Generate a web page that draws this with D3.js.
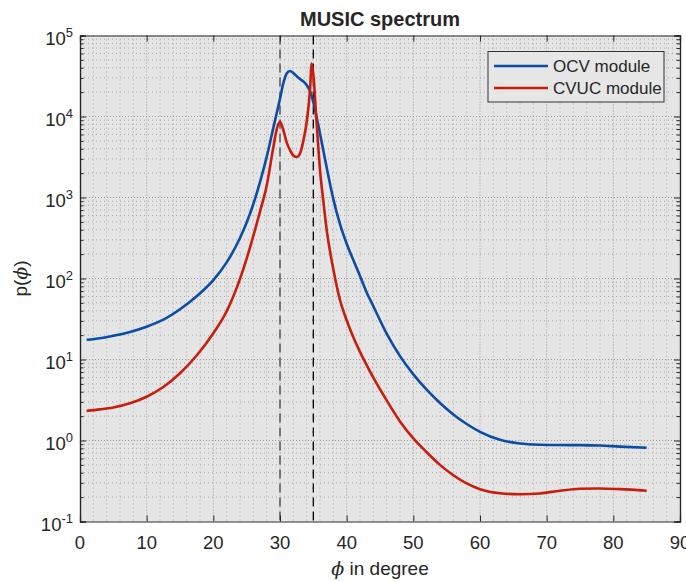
<!DOCTYPE html>
<html>
<head>
    <meta charset="utf-8">
    <title>MUSIC spectrum</title>
    <script src="https://d3js.org/d3.v7.min.js"></script>
    <style>
        body {
            margin: 0;
            background: #ffffff;
        }

        #chart text {
            font-family: "Liberation Sans", Arial, sans-serif;
            fill: #262626;
        }
    </style>
</head>
<body>
    <div id="chart"></div>

    <script>
        // angles (degree) shared by both curves
        var angles = [1, 3, 5, 7.5, 10, 12.5, 15, 17.5, 20, 22, 24, 25, 26, 27, 28, 29, 29.5, 30, 30.5, 31, 31.5,
            32, 32.5, 33, 33.5, 34, 34.5, 34.75, 35, 35.5, 36, 36.5, 37, 38, 39, 40, 41, 42, 43, 44, 46, 48,
            50, 52, 54, 56, 58, 60, 63, 66, 69, 72, 75, 78, 81, 85];

        var ocvValues = [17.5, 18.3, 19.6, 21.9, 25.4, 31.0, 41.7, 60.3, 95.5, 158, 316, 490, 832, 1549, 3162, 7244, 10965, 16596, 25704, 33884, 36500,
            34500, 31500, 29000, 27000, 24500, 20500, 18000, 15000, 9772, 6166, 3802, 2344, 955, 468, 269, 169, 107, 67.3, 45.5, 20.8, 11.0,
            6.56, 4.24, 2.90, 2.10, 1.60, 1.28, 1.02, 0.918, 0.887, 0.879, 0.877, 0.867, 0.84, 0.815];

        var cvucValues = [2.32, 2.42, 2.56, 2.88, 3.47, 4.57, 6.76, 11.2, 21.1, 39.4, 98.9, 176, 335, 668, 1396, 4170, 6900, 8600, 6800, 4800, 3850,
            3300, 3160, 3500, 5000, 8500, 21000, 45000, 33000, 8200, 2200, 900, 400, 130, 54.3, 30.5, 18.8, 12.4, 8.5, 5.96, 3.13, 1.72,
            1.06, 0.716, 0.50, 0.372, 0.295, 0.25, 0.223, 0.217, 0.222, 0.24, 0.254, 0.256, 0.251, 0.24];

        var seriesNames = ["OCV module", "CVUC module"];
        var seriesColors = ["#0a4ca6", "#c81d0d"];

        var xTicks = [0, 10, 20, 30, 40, 50, 60, 70, 80, 90];
        var yExponents = [-1, 0, 1, 2, 3, 4, 5];
        var markerAngles = [30, 35];   // dashed lines at the true directions

        var width = 686, height = 582;
        var margin = { top: 35.5, right: 6, bottom: 60.5, left: 80 };

        var svg = d3.select("#chart").append("svg")
            .attr("width", width)
            .attr("height", height);

        var x = d3.scaleLinear()
            .domain([0, 90])
            .range([margin.left, width - margin.right]);

        var y = d3.scaleLog()
            .domain([0.1, 1e5])
            .range([height - margin.bottom, margin.top]);

        var x0 = x.range()[0], x1 = x.range()[1];
        var y0 = y.range()[0], y1 = y.range()[1];

        // plot background
        svg.append("rect")
            .attr("x", x0).attr("y", y1)
            .attr("width", x1 - x0).attr("height", y0 - y1)
            .attr("fill", "#e5e5e5");

        // minor values on the log axis
        var minorY = [];
        yExponents.slice(0, -1).forEach(function (e) {
            for (var m = 2; m <= 9; m++) minorY.push(m * Math.pow(10, e));
        });
        var minorX = d3.range(2, 90, 2).filter(function (v) { return v % 10 != 0; });

        var grid = svg.append("g");
        // minor grid
        grid.selectAll(".gyminor").data(minorY).enter().append("line")
            .attr("x1", x0).attr("x2", x1)
            .attr("y1", function (d) { return y(d); }).attr("y2", function (d) { return y(d); })
            .attr("stroke", "#a6a6a6").attr("stroke-width", 1).attr("stroke-dasharray", "1,3");
        grid.selectAll(".gxminor").data(minorX).enter().append("line")
            .attr("y1", y1).attr("y2", y0)
            .attr("x1", function (d) { return x(d); }).attr("x2", function (d) { return x(d); })
            .attr("stroke", "#a6a6a6").attr("stroke-width", 1).attr("stroke-dasharray", "1,3");
        // major grid
        grid.selectAll(".gymajor").data(yExponents.slice(1, -1)).enter().append("line")
            .attr("x1", x0).attr("x2", x1)
            .attr("y1", function (d) { return y(Math.pow(10, d)); }).attr("y2", function (d) { return y(Math.pow(10, d)); })
            .attr("stroke", "#999").attr("stroke-width", 1).attr("stroke-dasharray", "1,2");
        grid.selectAll(".gxmajor").data(xTicks.slice(1, -1)).enter().append("line")
            .attr("y1", y1).attr("y2", y0)
            .attr("x1", function (d) { return x(d); }).attr("x2", function (d) { return x(d); })
            .attr("stroke", "#999").attr("stroke-width", 1).attr("stroke-dasharray", "1,2");

        // dashed markers
        svg.selectAll(".marker").data(markerAngles).enter().append("line")
            .attr("x1", function (d) { return x(d); }).attr("x2", function (d) { return x(d); })
            .attr("y1", y1).attr("y2", y0)
            .attr("stroke", function (d, i) { return i == 0 ? "#444" : "#000"; })
            .attr("stroke-width", 1.3)
            .attr("stroke-dasharray", "9,5");

        // curves
        var line = d3.line()
            .x(function (d) { return x(d[0]); })
            .y(function (d) { return y(d[1]); })
            .curve(d3.curveMonotoneX);

        [ocvValues, cvucValues].forEach(function (vals, i) {
            svg.append("path")
                .datum(angles.map(function (a, k) { return [a, vals[k]]; }))
                .attr("fill", "none")
                .attr("stroke", seriesColors[i])
                .attr("stroke-width", 2.6)
                .attr("d", line);
        });

        // axes: box with inside ticks on all four sides
        var axisColor = "#262626";
        svg.append("g").attr("transform", "translate(0," + y0 + ")")
            .call(d3.axisBottom(x).tickValues(xTicks).tickSize(-6).tickFormat(""));
        svg.append("g").attr("transform", "translate(0," + y1 + ")")
            .call(d3.axisTop(x).tickValues(xTicks).tickSize(-6).tickFormat(""));
        svg.append("g").attr("transform", "translate(" + x0 + ",0)")
            .call(d3.axisLeft(y).tickValues(yExponents.map(function (e) { return Math.pow(10, e); })).tickSize(-6).tickFormat(""));
        svg.append("g").attr("transform", "translate(" + x1 + ",0)")
            .call(d3.axisRight(y).tickValues(yExponents.map(function (e) { return Math.pow(10, e); })).tickSize(-6).tickFormat(""));
        svg.append("g").attr("transform", "translate(" + x0 + ",0)")
            .call(d3.axisLeft(y).tickValues(minorY).tickSize(-3.5).tickFormat(""));
        svg.append("g").attr("transform", "translate(" + x1 + ",0)")
            .call(d3.axisRight(y).tickValues(minorY).tickSize(-3.5).tickFormat(""));
        svg.selectAll(".domain").attr("stroke", axisColor).attr("stroke-width", 1.2);
        svg.selectAll(".tick line").attr("stroke", axisColor);

        // x tick labels
        svg.selectAll(".xlab").data(xTicks).enter().append("text")
            .attr("x", function (d) { return x(d); })
            .attr("y", y0 + 27.5)
            .attr("text-anchor", "middle")
            .style("font-size", "18.5px")
            .text(function (d) { return d; });

        // y tick labels 10^n
        var ylab = svg.selectAll(".ylab").data(yExponents).enter().append("text")
            .attr("x", x0 - 7)
            .attr("y", function (d) { return y(Math.pow(10, d)) + 9.5; })
            .attr("text-anchor", "end")
            .style("font-size", "18.5px");
        ylab.append("tspan").text("10");
        ylab.append("tspan")
            .attr("dy", -8)
            .style("font-size", "13px")
            .text(function (d) { return d < 0 ? "-" + (-d) : d; });

        // title and axis labels
        svg.append("text")
            .attr("x", (x0 + x1) / 2).attr("y", 26)
            .attr("text-anchor", "middle")
            .style("font-size", "20px").style("font-weight", "bold")
            .text("MUSIC spectrum");

        var xl = svg.append("text")
            .attr("x", (x0 + x1) / 2).attr("y", 575)
            .attr("text-anchor", "middle")
            .style("font-size", "19px");
        xl.append("tspan").style("font-style", "italic").style("font-family", "'DejaVu Serif', serif").text("ϕ");
        xl.append("tspan").text(" in degree");

        var yl = svg.append("text")
            .attr("transform", "translate(27," + ((y0 + y1) / 2) + ") rotate(-90)")
            .attr("text-anchor", "middle")
            .style("font-size", "19px");
        yl.append("tspan").text("p(");
        yl.append("tspan").style("font-style", "italic").style("font-family", "'DejaVu Serif', serif").text("ϕ");
        yl.append("tspan").text(")");

        // legend
        var lg = svg.append("g");
        lg.append("rect")
            .attr("x", 488).attr("y", 51.5)
            .attr("width", 176).attr("height", 50.5)
            .attr("fill", "#e6e6e6")
            .attr("stroke", "#333").attr("stroke-width", 1);
        seriesNames.forEach(function (name, i) {
            var ly = 66 + i * 22;
            lg.append("line")
                .attr("x1", 494).attr("x2", 548)
                .attr("y1", ly).attr("y2", ly)
                .attr("stroke", seriesColors[i]).attr("stroke-width", 2.6);
            lg.append("text")
                .attr("x", 553).attr("y", ly + 6)
                .style("font-size", "17px")
                .text(name);
        });
    </script>
</body>
</html>
